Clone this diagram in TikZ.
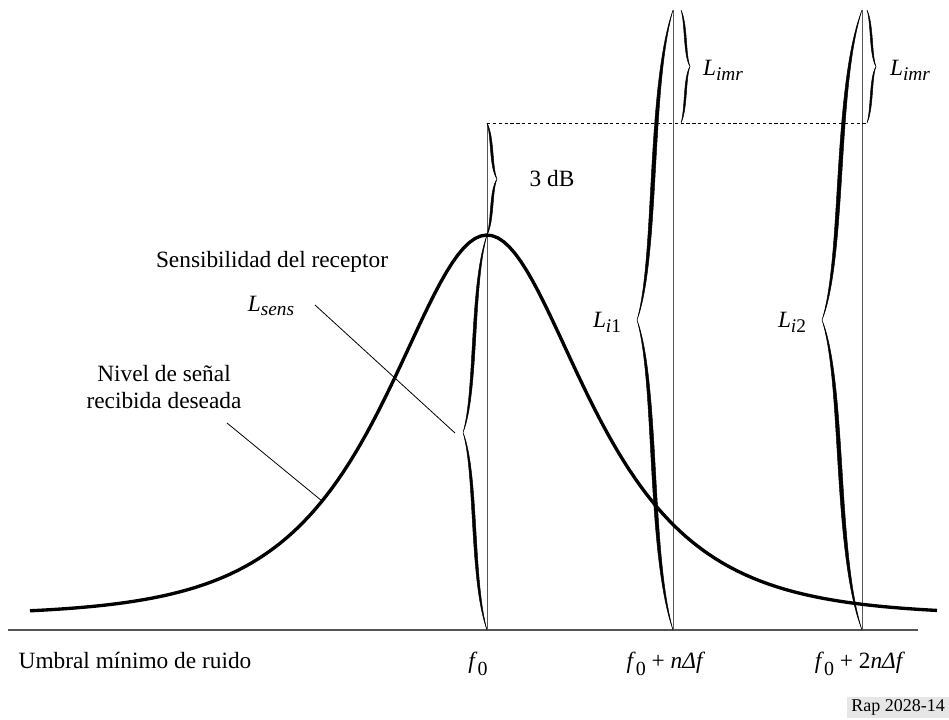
\documentclass[tikz,border=0pt]{standalone}
\usepackage{fontspec}
\setmainfont{Liberation Serif}
\usepackage{tikz}
\usetikzlibrary{calc}
\definecolor{LineGray}{HTML}{555555}
\definecolor{TagGray}{HTML}{E6E6E6}
\newcommand{\lvl}[2]{\textit{#1}\raisebox{-0.45ex}{\fontsize{14.5}{15}\selectfont\textit{#2}}}
\newcommand{\fz}{\textit{f}\raisebox{-0.6ex}{\fontsize{15}{16}\selectfont 0}}
% calligraphic brace: x, top y, bottom y, tip offset, stroke
\newcommand{\calbrace}[5]{%
  \pgfmathsetmacro{\brM}{(#2+#3)/2}%
  \pgfmathsetmacro{\brH}{(#3-#2)/2}%
  \pgfmathsetmacro{\brT}{#5*sign(#4)}%
  \filldraw[brace]
    (#1,#3) .. controls ({#1+0.75*#4},{#3-0.25*\brH}) and ({#1+0.5*#4},{\brM+0.2*\brH}) .. ({#1+#4},\brM)
            .. controls ({#1+0.5*#4},{\brM-0.2*\brH}) and ({#1+0.75*#4},{#2+0.25*\brH}) .. (#1,#2)
            .. controls ({#1+0.75*#4-\brT},{#2+0.25*\brH}) and ({#1+0.5*#4-\brT},{\brM-0.2*\brH}) .. ({#1+#4},\brM)
            .. controls ({#1+0.5*#4-\brT},{\brM+0.2*\brH}) and ({#1+0.75*#4-\brT},{#3-0.25*\brH}) .. cycle;}
\begin{document}
\begin{tikzpicture}[x=0.75pt,y=-0.75pt,
    every node/.style={font=\fontsize{17.5}{20.5}\selectfont, inner sep=1pt},
    ax/.style={line width=0.8pt, LineGray},
    gd/.style={line width=0.6pt, LineGray},
    ld/.style={line width=0.6pt, black},
    brace/.style={fill=black, draw=black, line width=0.35pt}]
  \useasboundingbox (0,0) rectangle (949,720);
  % axis and frequency markers
  \coordinate (a0) at (8,630);   \coordinate (a1) at (918,630);
  \coordinate (b0) at (487,630); \coordinate (t0) at (487,123);
  \coordinate (b1) at (673,630); \coordinate (t1) at (673,10);
  \coordinate (b2) at (862,630); \coordinate (t2) at (862,10);
  \coordinate (d1) at (867,123);
  \draw[ax] (a0)--(a1);
  \draw[gd] (b0)--(t0); \draw[gd] (b1)--(t1); \draw[gd] (b2)--(t2);
  \draw[ld, dash pattern=on 2.4pt off 2pt] (t0)--(d1);
  % wanted signal
  \draw[line width=2.5pt, line join=round]
    plot[domain=30:937, samples=160] (\x,{615-380/cosh((\x-487)/88)});
  % level braces
  \calbrace{487}{235}{630}{-24}{4}
  \calbrace{487}{123}{235}{10}{3}
  \calbrace{673}{10}{630}{-36}{5}
  \calbrace{681}{10}{123}{9}{2.5}
  \calbrace{862}{10}{630}{-40}{5}
  \calbrace{867}{10}{123}{9}{2.5}
  % labels
  \node (umbral) at (135,660) {Umbral mínimo de ruido};
  \node (fa) at (478,664) {\fz};
  \node (fb) at (666,664) {\fz\ + \textit{nΔf}};
  \node (fc) at (860,664) {\fz\ + 2\textit{nΔf}};
  \node (sens) at (272,262) {Sensibilidad del receptor};
  \node (lsens) at (271,306) {\lvl{L}{sens}};
  \node[align=center] (nivel) at (164,387) {Nivel de señal\\recibida deseada};
  \node (tdb) at (552,179) {3 dB};
  \node (li1) at (607,322) {\lvl{L}{i\textup{1}}};
  \node (li2) at (792,322) {\lvl{L}{i\textup{2}}};
  \node (lm1) at (723,70) {\lvl{L}{imr}};
  \node (lm2) at (910,70) {\lvl{L}{imr}};
  \node[fill=TagGray, minimum width=76.5pt, minimum height=15.75pt,
        font=\fontsize{13.5}{15}\selectfont] (rap) at (898,707.5) {Rap 2028-14};
  % leaders
  \coordinate (s0) at (315,305); \coordinate (s1) at (455,433);
  \coordinate (n0) at (227,423); \coordinate (n1) at (322,501);
  \draw[ld] (s0)--(s1);
  \draw[ld] (n0)--(n1);
\end{tikzpicture}
\end{document}
